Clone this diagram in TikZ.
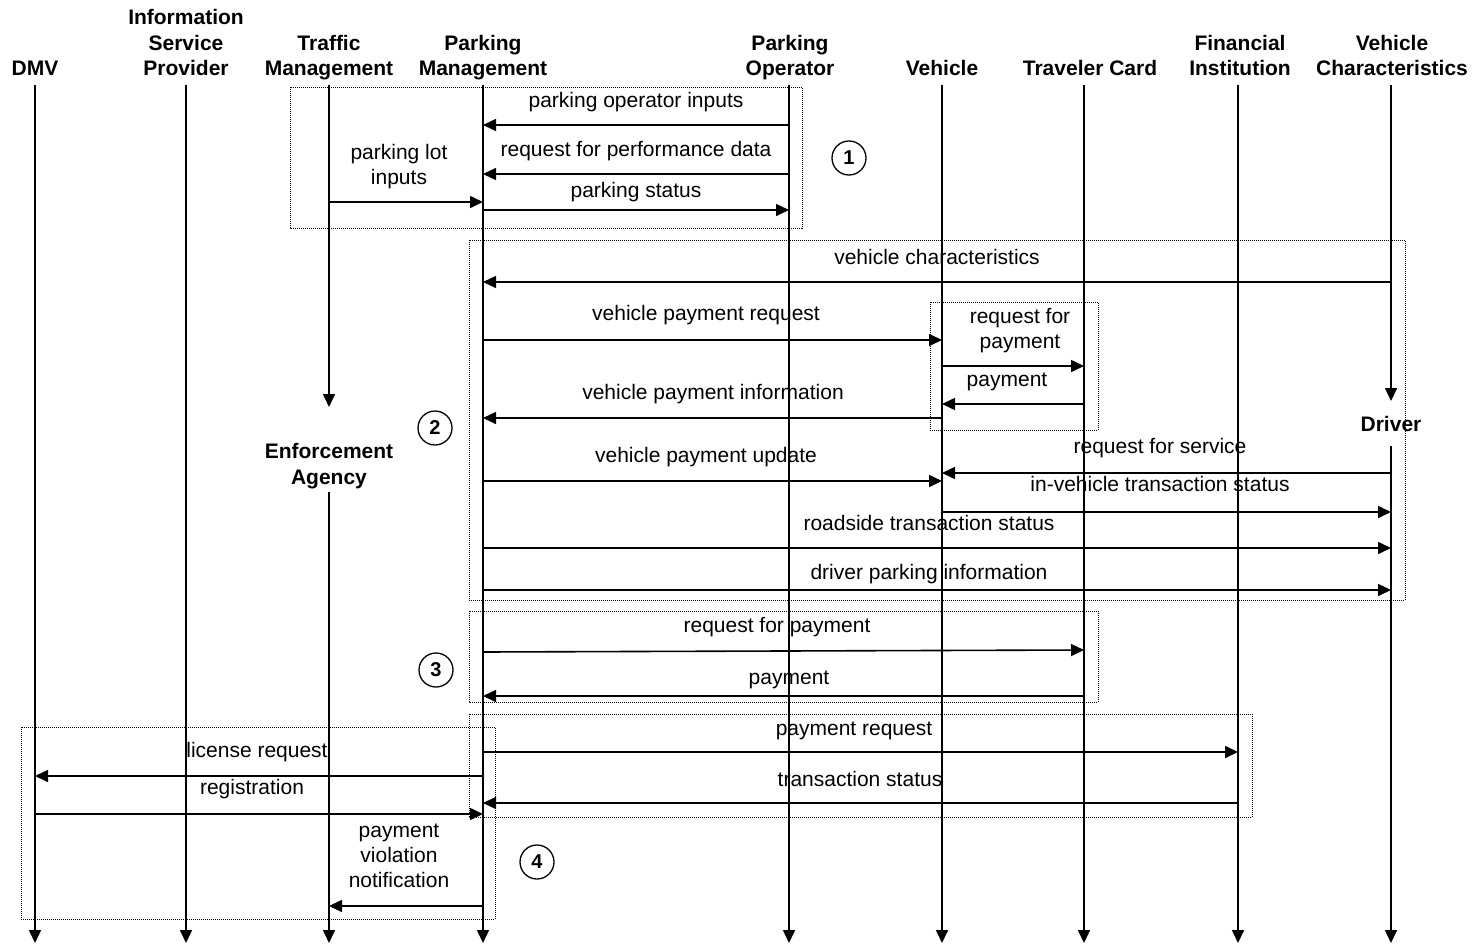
\documentclass[tikz,border=0pt]{standalone}
\usepackage{fontspec}
\setmainfont{Liberation Sans}
\usetikzlibrary{arrows.meta}

\begin{document}
\begin{tikzpicture}[x=1pt,y=-1pt,
  tip/.style={-{Triangle[length=13pt,width=12pt]}},
  lifeline/.style={line width=1.6pt,tip},
  msg/.style={line width=1.6pt,tip},
  grp/.style={line width=0.8pt,dash pattern=on 1pt off 1pt},
  hdr/.style={font=\fontsize{21}{25.5}\selectfont\bfseries,align=center,anchor=base,inner sep=0pt},
  lbl/.style={font=\fontsize{21}{25}\selectfont,align=center,anchor=base,inner sep=0pt},
  stepnum/.style={circle,draw,line width=1.3pt,minimum size=34pt,inner sep=0pt,
    font=\fontsize{20}{20}\selectfont\bfseries}]
\useasboundingbox (0,0) rectangle (1476,945);

% lifeline tops and bottoms
\foreach \n/\x in {DMV/35,ISP/186,TM/329,PM/483,PO/789,VEH/942,TC/1084,FI/1238,VC/1391}{
  \coordinate (\n) at (\x,85);
  \coordinate (bot\n) at (\x,943);
}
\coordinate (TMstop) at (329,407);
\coordinate (TMresume) at (329,492);
\coordinate (VCstop) at (1391,401);
\coordinate (VCresume) at (1391,446);

% headers
\node[hdr] (hDMV) at (35,75.5) {DMV};
\node[hdr] (hISP) at (186,75.5) {Information\\Service\\Provider};
\node[hdr] (hTM)  at (329,75.5) {Traffic\\Management};
\node[hdr] (hPM)  at (483,75.5) {Parking\\Management};
\node[hdr] (hPO)  at (790,75.5) {Parking\\Operator};
\node[hdr] (hVEH) at (942,75.5) {Vehicle};
\node[hdr] (hTC)  at (1090,75.5) {Traveler Card};
\node[hdr] (hFI)  at (1240,75.5) {Financial\\Institution};
\node[hdr] (hVC)  at (1392,75.5) {Vehicle\\Characteristics};
\node[hdr] (hEA)  at (329,484) {Enforcement\\Agency};
\node[hdr] (hDR)  at (1391,431) {Driver};

% lifelines
\foreach \n in {DMV,ISP,PM,PO,VEH,TC,FI}{
  \draw[lifeline] (\n) -- (bot\n);
}
\draw[lifeline] (TM) -- (TMstop);
\draw[lifeline] (TMresume) -- (botTM);
\draw[lifeline] (VC) -- (VCstop);
\draw[lifeline] (VCresume) -- (botVC);

% group boxes
\draw[grp] (290,87) rectangle (802,228);
\draw[grp] (469,240) rectangle (1405,600);
\draw[grp] (930,302) rectangle (1098,430);
\draw[grp] (469,611) rectangle (1098,702);
\draw[grp] (469,714) rectangle (1252,817);
\draw[grp] (21,727) rectangle (495,919);

% step numbers
\node[stepnum] (s1) at (849,158) {1};
\node[stepnum] (s2) at (435,428) {2};
\node[stepnum] (s3) at (436,670) {3};
\node[stepnum] (s4) at (537,862) {4};

% group 1
\draw[msg] (PO |- 0,125) -- (PM |- 0,125);
\node[lbl] (l1) at (636,107) {parking operator inputs};
\draw[msg] (PO |- 0,174) -- (PM |- 0,174);
\node[lbl] (l2) at (636,156) {request for performance data};
\draw[msg] (PM |- 0,210) -- (PO |- 0,210);
\node[lbl] (l3) at (636,197) {parking status};
\draw[msg] (TM |- 0,202) -- (PM |- 0,202);
\node[lbl] (l4) at (399,184) {parking lot\\inputs};

% group 2
\draw[msg] (VC |- 0,282) -- (PM |- 0,282);
\node[lbl] (l5) at (937,264) {vehicle characteristics};
\draw[msg] (PM |- 0,340) -- (VEH |- 0,340);
\node[lbl] (l6) at (706,320) {vehicle payment request};
\draw[msg] (VEH |- 0,366) -- (TC |- 0,366);
\node[lbl] (l7) at (1020,348) {request for\\payment};
\draw[msg] (TC |- 0,404) -- (VEH |- 0,404);
\node[lbl] (l8) at (1007,386) {payment};
\draw[msg] (VEH |- 0,418) -- (PM |- 0,418);
\node[lbl] (l9) at (713,399) {vehicle payment information};
\draw[msg] (PM |- 0,481) -- (VEH |- 0,481);
\node[lbl] (l10) at (706,462) {vehicle payment update};
\draw[msg] (VC |- 0,473) -- (VEH |- 0,473);
\node[lbl] (l11) at (1160,453) {request for service};
\draw[msg] (VEH |- 0,512) -- (VC |- 0,512);
\node[lbl] (l12) at (1160,491) {in-vehicle transaction status};
\draw[msg] (PM |- 0,548) -- (VC |- 0,548);
\node[lbl] (l13) at (929,530) {roadside transaction status};
\draw[msg] (PM |- 0,590) -- (VC |- 0,590);
\node[lbl] (l14) at (929,579) {driver parking information};

% group 3
\draw[msg] (PM |- 0,652) -- (TC |- 0,650);
\node[lbl] (l15) at (777,632) {request for payment};
\draw[msg] (TC |- 0,696) -- (PM |- 0,696);
\node[lbl] (l16) at (789,684) {payment};

% group 4
\draw[msg] (PM |- 0,752) -- (FI |- 0,752);
\node[lbl] (l17) at (854,735) {payment request};
\draw[msg] (FI |- 0,803) -- (PM |- 0,803);
\node[lbl] (l18) at (860,786) {transaction status};
\draw[msg] (PM |- 0,776) -- (DMV |- 0,776);
\node[lbl] (l19) at (257,757) {license request};
\draw[msg] (DMV |- 0,814) -- (PM |- 0,814);
\node[lbl] (l20) at (252,794) {registration};
\draw[msg] (PM |- 0,906) -- (TM |- 0,906);
\node[lbl] (l21) at (399,887) {payment\\violation\\notification};
\end{tikzpicture}
\end{document}
